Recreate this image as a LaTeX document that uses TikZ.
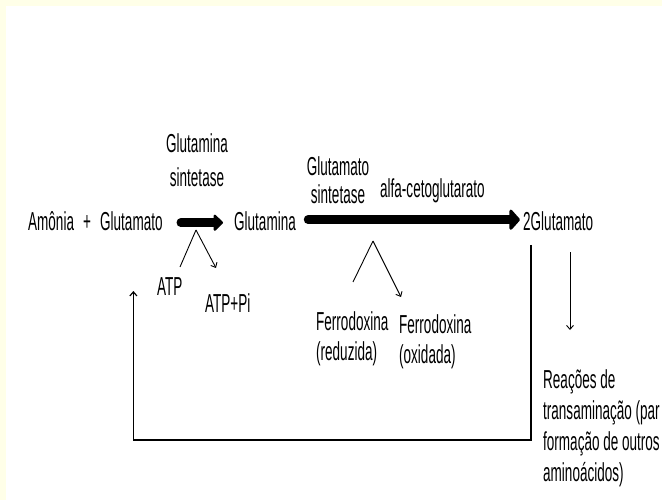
\documentclass[tikz,border=0pt]{standalone}
\usepackage{fontspec}
\setmainfont{Liberation Sans}[FakeStretch=0.52]
\usetikzlibrary{arrows.meta}
\definecolor{paleyellow}{RGB}{255,255,232}
\begin{document}
\begin{tikzpicture}[x=1pt,y=-1pt,
  lbl/.style={inner sep=0pt, font=\fontsize{26pt}{30pt}\selectfont},
  bigarrow/.style={line width=8.5pt, line cap=round},
  thinline/.style={line width=0.9pt},
  thinarrow/.style={thinline, -{Straight Barb[length=4pt,width=7pt]}},
  loopline/.style={line width=1.2pt, -{Straight Barb[length=4pt,width=7pt]}}
]
\useasboundingbox (0,0) rectangle (662,500);
\clip (0,0) rectangle (662,500);
\fill[white] (0,0) rectangle (662,500);
\fill[paleyellow] (0,0) rectangle (662,6);
\fill[paleyellow] (0,0) rectangle (6,500);

% main row
\node[lbl, anchor=base west] (amonia) at (28,230) {Amônia};
\node[lbl, anchor=base] (plus) at (87,230) {+};
\node[lbl, anchor=base west] (glu1) at (100,230) {Glutamato};
\node[lbl, anchor=base west] (gln) at (234,230) {Glutamina};
\node[lbl, anchor=base west] (glu2) at (523,230) {2Glutamato};

% enzyme labels
\node[lbl, align=center, anchor=north, font=\fontsize{26pt}{34pt}\selectfont] (gs) at (197,133) {Glutamina\\sintetase};
\node[lbl, align=center, anchor=north, font=\fontsize{26pt}{28pt}\selectfont] (gts) at (338,156) {Glutamato\\sintetase};
\node[lbl, anchor=base west] (alfa) at (380,198) {alfa-cetoglutarato};

% cofactors
\node[lbl, anchor=base west] (atp) at (157,295) {ATP};
\node[lbl, anchor=base west] (atppi) at (205,312) {ATP+Pi};
\node[lbl, align=left, anchor=north west] (ferr1) at (316,311) {Ferrodoxina\\(reduzida)};
\node[lbl, align=left, anchor=north west] (ferr2) at (399,314) {Ferrodoxina\\(oxidada)};
\node[lbl, align=left, anchor=north west, font=\fontsize{26pt}{31pt}\selectfont] (reac) at (543,369) {Reações de\\transaminação (par\\formação de outros\\aminoácidos)};

% thick reaction arrows
\draw[bigarrow, -{Triangle[round,length=10pt,width=19pt]}, shorten <=18pt, shorten >=11pt]
  ([yshift=-2pt]glu1.east) -- ([yshift=-2pt]gln.west);
\draw[bigarrow, -{Triangle[round,length=11pt,width=24pt]}, shorten <=12pt, shorten >=3pt]
  ([yshift=1pt]gln.east) -- ([yshift=1pt]glu2.west |- gln.east);

% side reactions
\coordinate (ap1) at (196,230);
\draw[thinline] ([xshift=23pt,yshift=28pt]atp.base west) -- (ap1);
\draw[thinarrow] (ap1) -- ([xshift=11pt,yshift=44pt]atppi.base west);
\coordinate (ap2) at (373,241);
\draw[thinline] ([xshift=37pt,yshift=29pt]ferr1.north west) -- (ap2);
\draw[thinarrow] (ap2) -- ([xshift=2pt,yshift=17pt]ferr2.north west);

% feedback loop
\draw[loopline] ([xshift=8pt,yshift=-15pt]glu2.base west) -- ++(0,195) -| ([xshift=2pt,yshift=-61pt]glu1.base);

% to transamination
\draw[thinarrow] ([xshift=47pt,yshift=-22pt]glu2.base west) -- ([xshift=27pt,yshift=39pt]reac.north west);
\end{tikzpicture}
\end{document}
